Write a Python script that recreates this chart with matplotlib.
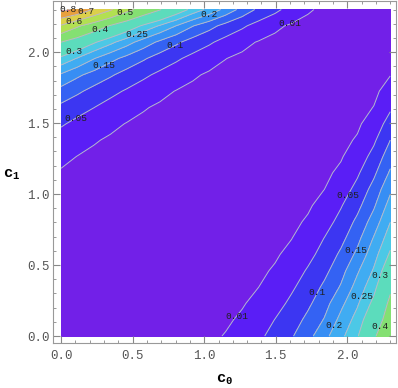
import matplotlib
matplotlib.use("Agg")
import matplotlib.pyplot as plt
import numpy as np

# grid nodes at a 0.115 step (same for both axes)
c0 = [0.0, 0.115, 0.23, 0.345, 0.46, 0.575, 0.69, 0.805, 0.92, 1.035, 1.15,
      1.265, 1.38, 1.495, 1.61, 1.725, 1.84, 1.955, 2.07, 2.185, 2.3]
c1 = [0.0, 0.115, 0.23, 0.345, 0.46, 0.575, 0.69, 0.805, 0.92, 1.035, 1.15,
      1.265, 1.38, 1.495, 1.61, 1.725, 1.84, 1.955, 2.07, 2.185, 2.3]

# estimated values, one row per c1 node (left to right = c0)
f_00 = [0, 0, 0, 0.0001, 0.0002, 0.0004, 0.0008, 0.0016, 0.0031, 0.0059, 0.0112, 0.0214, 0.041, 0.0651, 0.0952, 0.1331, 0.1852, 0.237, 0.2947, 0.3905, 0.46]
f_01 = [0, 0, 0, 0, 0.0001, 0.0002, 0.0005, 0.0009, 0.0018, 0.0035, 0.0068, 0.0134, 0.0264, 0.051, 0.0759, 0.1122, 0.1534, 0.2142, 0.2689, 0.3532, 0.44]
f_02 = [0, 0, 0, 0, 0, 0.0001, 0.0002, 0.0005, 0.001, 0.002, 0.004, 0.0081, 0.0164, 0.0332, 0.0595, 0.0903, 0.1315, 0.1872, 0.2435, 0.3148, 0.418]
f_03 = [0.0001, 0, 0, 0, 0, 0, 0.0001, 0.0003, 0.0005, 0.0011, 0.0023, 0.0048, 0.0099, 0.0207, 0.0432, 0.071, 0.1095, 0.1548, 0.2198, 0.2833, 0.385]
f_04 = [0.0002, 0.0001, 0, 0, 0, 0, 0, 0.0001, 0.0003, 0.0006, 0.0012, 0.0027, 0.0058, 0.0125, 0.027, 0.0549, 0.0869, 0.132, 0.1932, 0.2558, 0.346]
f_05 = [0.0003, 0.0002, 0.0001, 0, 0, 0, 0, 0, 0.0001, 0.0003, 0.0006, 0.0014, 0.0032, 0.0072, 0.0162, 0.0364, 0.0672, 0.1089, 0.1614, 0.2303, 0.308]
f_06 = [0.0006, 0.0003, 0.0002, 0.0001, 0, 0, 0, 0, 0, 0.0001, 0.0003, 0.0007, 0.0017, 0.004, 0.0094, 0.022, 0.0509, 0.0851, 0.1356, 0.2036, 0.277]
f_07 = [0.0011, 0.0006, 0.0003, 0.0002, 0.0001, 0, 0, 0, 0, 0, 0.0001, 0.0004, 0.0009, 0.0021, 0.0052, 0.0127, 0.0311, 0.0647, 0.1113, 0.1726, 0.249]
f_08 = [0.0021, 0.0012, 0.0007, 0.0003, 0.0002, 0.0001, 0, 0, 0, 0, 0.0001, 0.0002, 0.0004, 0.0011, 0.0027, 0.007, 0.0181, 0.0464, 0.0858, 0.1429, 0.22]
f_09 = [0.0041, 0.0024, 0.0013, 0.0007, 0.0004, 0.0002, 0.0001, 0, 0, 0, 0, 0.0001, 0.0002, 0.0005, 0.0013, 0.0036, 0.0099, 0.027, 0.0636, 0.1174, 0.19]
f_10 = [0.008, 0.0048, 0.0028, 0.0015, 0.0008, 0.0004, 0.0002, 0.0001, 0, 0, 0, 0, 0.0001, 0.0002, 0.0006, 0.0018, 0.0051, 0.0149, 0.0431, 0.0899, 0.157]
f_11 = [0.0154, 0.0096, 0.0057, 0.0033, 0.0018, 0.0009, 0.0005, 0.0002, 0.0001, 0, 0, 0, 0, 0.0001, 0.0003, 0.0008, 0.0025, 0.0077, 0.0241, 0.0651, 0.128]
f_12 = [0.0298, 0.0191, 0.0119, 0.0071, 0.004, 0.0022, 0.0011, 0.0005, 0.0002, 0.0001, 0, 0, 0, 0, 0.0001, 0.0003, 0.0011, 0.0037, 0.0125, 0.0422, 0.1]
f_13 = [0.0553, 0.0382, 0.0245, 0.0152, 0.009, 0.0051, 0.0027, 0.0014, 0.0006, 0.0003, 0.0001, 0, 0, 0, 0, 0.0001, 0.0004, 0.0016, 0.006, 0.0222, 0.07]
f_14 = [0.0885, 0.0673, 0.0504, 0.0327, 0.0201, 0.0118, 0.0067, 0.0035, 0.0017, 0.0008, 0.0003, 0.0001, 0, 0, 0, 0, 0.0002, 0.0006, 0.0026, 0.0106, 0.043]
f_15 = [0.1327, 0.109, 0.0838, 0.0629, 0.0447, 0.0276, 0.0163, 0.0091, 0.0048, 0.0023, 0.001, 0.0004, 0.0001, 0, 0, 0, 0.0001, 0.0003, 0.0012, 0.005, 0.02]
f_16 = [0.1938, 0.159, 0.1323, 0.1064, 0.0805, 0.0593, 0.0399, 0.0236, 0.0132, 0.0068, 0.0032, 0.0014, 0.0005, 0.0002, 0, 0, 0, 0.0001, 0.0006, 0.0023, 0.0093]
f_17 = [0.2875, 0.2457, 0.2018, 0.1649, 0.1343, 0.1059, 0.0788, 0.0571, 0.0364, 0.0202, 0.0104, 0.0049, 0.002, 0.0007, 0.0002, 0.0001, 0, 0, 0.0003, 0.001, 0.0039]
f_18 = [0.4, 0.356, 0.307, 0.2632, 0.2196, 0.1771, 0.1398, 0.1088, 0.0792, 0.0566, 0.0339, 0.0174, 0.0081, 0.0033, 0.0012, 0.0005, 0.0001, 0, 0.0001, 0.0004, 0.0016]
f_19 = [0.59, 0.5125, 0.4515, 0.3938, 0.344, 0.2904, 0.2448, 0.199, 0.1522, 0.1172, 0.0827, 0.0575, 0.0327, 0.0153, 0.0063, 0.0025, 0.0007, 0.0002, 0, 0.0002, 0.0007]
f_20 = [0.825, 0.78, 0.69, 0.611, 0.528, 0.461, 0.405, 0.342, 0.282, 0.235, 0.185, 0.1327, 0.09, 0.061, 0.032, 0.0131, 0.0045, 0.0014, 0.0004, 0.0001, 0.0003]

levels = [0.01, 0.05, 0.1, 0.15, 0.2, 0.25, 0.3, 0.4, 0.5, 0.6, 0.7, 0.8]

band_colors = ['#7220e8', '#5a1ef6', '#3c36f2', '#3462f3', '#378ef4', '#40acf2',
               '#4cc8e6', '#5cdcbc', '#84e072', '#b2e052', '#dcd04a', '#e8a03e', '#e8524a']

# where the labels sit on the lines
label_spots = [(0.05, 2.29), (0.175, 2.29), (0.09, 2.22), (0.45, 2.27), (0.27, 2.16),
               (0.09, 2.0), (0.53, 2.13), (1.03, 2.27), (0.3, 1.91), (0.79, 2.05),
               (0.1, 1.54), (1.6, 2.2),
               (1.25, 0.12), (2.0, 0.99), (1.8, 0.3), (2.06, 0.6), (1.92, 0.07),
               (2.1, 0.28), (2.24, 0.42), (2.22, 0.07)]

Z = np.array([f_00, f_01, f_02, f_03, f_04, f_05, f_06, f_07, f_08, f_09, f_10,
              f_11, f_12, f_13, f_14, f_15, f_16, f_17, f_18, f_19, f_20])

plt.rcParams['font.family'] = ['Liberation Mono', 'DejaVu Sans']
plt.rcParams['mathtext.fontset'] = 'custom'
plt.rcParams['mathtext.rm'] = 'Liberation Mono'
plt.rcParams['mathtext.bf'] = 'Liberation Mono:bold'

fig = plt.figure(figsize=(3.98, 3.88), dpi=100)
ax = fig.add_axes([0.134, 0.1168, 0.861, 0.8806])

ax.contourf(c0, c1, Z, levels=[0.0] + levels + [1.0], colors=band_colors)
cs = ax.contour(c0, c1, Z, levels=levels, colors='#b8b8cc', linewidths=0.7)
ax.clabel(cs, levels, inline=False, fontsize=6.8, colors='#202020',
          fmt=lambda v: f'{v:g}', manual=label_spots)
for t in ax.texts:
    t.set_rotation(0)
    t.set_fontfamily('Liberation Mono')

ax.set_xlim(-0.054, 2.34)
ax.set_ylim(-0.047, 2.36)
ax.set_xticks([0.0, 0.5, 1.0, 1.5, 2.0])
ax.set_yticks([0.0, 0.5, 1.0, 1.5, 2.0])
ax.set_xticks(np.arange(0, 2.35, 0.1), minor=True)
ax.set_yticks(np.arange(0, 2.35, 0.1), minor=True)
ax.tick_params(which='both', direction='in', top=True, right=True, colors='#888888',
               labelcolor='#555555', labelsize=9)
ax.tick_params(which='major', length=5, width=0.8)
ax.tick_params(which='minor', length=2.5, width=0.6)
ax.tick_params(axis='x', pad=5)
ax.tick_params(axis='y', pad=2.5)
for s in ax.spines.values():
    s.set_color('#999999')
    s.set_linewidth(0.8)

fig.text(0.028, 0.549, r'$\mathbf{c}_{\mathbf{1}}$', fontsize=11, ha='center', va='center')
fig.text(0.565, 0.022, r'$\mathbf{c}_{\mathbf{0}}$', fontsize=11, ha='center', va='center')

fig.savefig('out.png', dpi=100)
